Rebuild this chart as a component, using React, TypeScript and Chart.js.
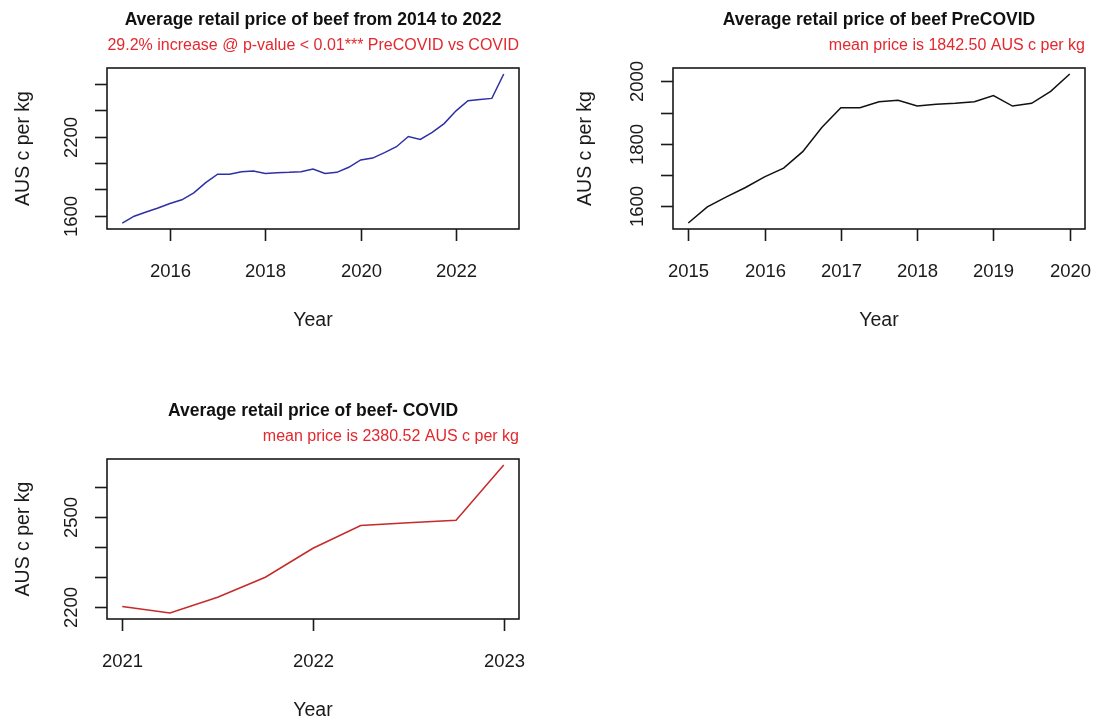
import React, { useEffect, useRef } from "react";
import { Chart, registerables } from "chart.js";

Chart.register(...registerables);

// ---------- data (quarterly, AUS c per kg) ----------
const quartersAll = [
  2015.0, 2015.25, 2015.5, 2015.75, 2016.0, 2016.25, 2016.5, 2016.75,
  2017.0, 2017.25, 2017.5, 2017.75, 2018.0, 2018.25, 2018.5, 2018.75,
  2019.0, 2019.25, 2019.5, 2019.75, 2020.0, 2020.25, 2020.5, 2020.75,
  2021.0, 2021.25, 2021.5, 2021.75, 2022.0, 2022.25, 2022.5, 2022.75,
  2023.0,
];
const priceAll = [
  1546, 1598, 1630, 1660, 1694, 1722, 1775, 1852,
  1916, 1916, 1935, 1940, 1921, 1927, 1930, 1935,
  1955, 1921, 1930, 1968, 2024, 2038, 2079, 2124,
  2201, 2179, 2232, 2299, 2396, 2472, 2481, 2490,
  2675,
];

const quartersPre = [
  2015.0, 2015.25, 2015.5, 2015.75, 2016.0, 2016.25, 2016.5, 2016.75,
  2017.0, 2017.25, 2017.5, 2017.75, 2018.0, 2018.25, 2018.5, 2018.75,
  2019.0, 2019.25, 2019.5, 2019.75, 2020.0,
];
const pricePre = [
  1546, 1598, 1630, 1660, 1694, 1722, 1775, 1852,
  1916, 1916, 1935, 1940, 1921, 1927, 1930, 1935,
  1955, 1921, 1930, 1968, 2024,
];

const quartersCovid = [2021.0, 2021.25, 2021.5, 2021.75, 2022.0, 2022.25, 2022.5, 2022.75, 2023.0];
const priceCovid = [2201, 2179, 2232, 2299, 2396, 2472, 2481, 2490, 2675];

// ---------- axis ticks / labels ----------
const allXTicks = [2016, 2018, 2020, 2022];
const allXTickLabels = ["2016", "2018", "2020", "2022"];
const allYTicks = [1600, 1800, 2000, 2200, 2400, 2600];
const allYTickLabels = ["1600", "", "", "2200", "", ""];

const preXTicks = [2015, 2016, 2017, 2018, 2019, 2020];
const preXTickLabels = ["2015", "2016", "2017", "2018", "2019", "2020"];
const preYTicks = [1600, 1700, 1800, 1900, 2000];
const preYTickLabels = ["1600", "", "1800", "", "2000"];

const covidXTicks = [2021, 2022, 2023];
const covidXTickLabels = ["2021", "2022", "2023"];
const covidYTicks = [2200, 2300, 2400, 2500, 2600];
const covidYTickLabels = ["2200", "", "", "2500", ""];

// ---------- text ----------
const titleAll = "Average retail price of beef from 2014 to 2022";
const subtitleAll = "29.2% increase @ p-value < 0.01*** PreCOVID vs COVID";
const titlePre = "Average retail price of beef PreCOVID";
const subtitlePre = "mean price is 1842.50 AUS c per kg";
const titleCovid = "Average retail price of beef- COVID";
const subtitleCovid = "mean price is 2380.52 AUS c per kg";
const xAxisTitle = "Year";
const yAxisTitle = "AUS c per kg";

const FONT = '"Liberation Sans", Arial, Helvetica, sans-serif';

// R-style range: data range extended by 4% on each side
function rRange(v: number[]): [number, number] {
  const lo = Math.min(...v);
  const hi = Math.max(...v);
  const d = (hi - lo) * 0.04;
  return [lo - d, hi + d];
}

const rAxesPlugin = {
  id: "rAxes",
  afterDraw(chart: any, _args: any, opts: any) {
    const { ctx, chartArea: a } = chart;
    const x = chart.scales.x;
    const y = chart.scales.y;
    ctx.save();
    ctx.strokeStyle = "#1a1a1a";
    ctx.fillStyle = "#1a1a1a";
    ctx.lineWidth = 1.6;
    // box
    ctx.strokeRect(a.left, a.top, a.right - a.left, a.bottom - a.top);

    // x ticks + labels
    ctx.font = `18.5px ${FONT}`;
    ctx.textAlign = "center";
    ctx.textBaseline = "alphabetic";
    (opts.xTicks as number[]).forEach((v, i) => {
      const px = Math.round(x.getPixelForValue(v)) + 0.5;
      ctx.beginPath();
      ctx.moveTo(px, a.bottom);
      ctx.lineTo(px, a.bottom + 12);
      ctx.stroke();
      ctx.fillText(opts.xTickLabels[i], px, a.bottom + 47.5);
    });

    // y ticks + rotated labels
    (opts.yTicks as number[]).forEach((v, i) => {
      const py = Math.round(y.getPixelForValue(v)) + 0.5;
      ctx.beginPath();
      ctx.moveTo(a.left - 12, py);
      ctx.lineTo(a.left, py);
      ctx.stroke();
      const lab = opts.yTickLabels[i];
      if (lab) {
        ctx.save();
        ctx.translate(a.left - 30.5, py);
        ctx.rotate(-Math.PI / 2);
        ctx.textAlign = "center";
        ctx.fillText(lab, 0, 0);
        ctx.restore();
      }
    });

    // axis titles
    ctx.font = `19.5px ${FONT}`;
    ctx.textAlign = "center";
    ctx.fillText(opts.xTitle, (a.left + a.right) / 2, a.bottom + 96.5);
    ctx.save();
    ctx.translate(a.left - opts.yTitleGap, (a.top + a.bottom) / 2);
    ctx.rotate(-Math.PI / 2);
    ctx.fillText(opts.yTitle, 0, 0);
    ctx.restore();

    // main title
    ctx.font = `bold 17.5px ${FONT}`;
    ctx.fillStyle = "#111111";
    ctx.textAlign = "center";
    ctx.fillText(opts.title, (a.left + a.right) / 2, a.top - 43);

    // red subtitle, right aligned
    ctx.font = `16px ${FONT}`;
    ctx.fillStyle = "#e3282e";
    ctx.textAlign = "right";
    ctx.fillText(opts.subtitle, a.right, a.top - 18);
    ctx.restore();
  },
};

type PanelProps = {
  left: number;
  top: number;
  width: number;
  height: number;
  pad: { left: number; top: number; right: number; bottom: number };
  xs: number[];
  ys: number[];
  color: string;
  xTicks: number[];
  xTickLabels: string[];
  yTicks: number[];
  yTickLabels: string[];
  title: string;
  subtitle: string;
  yTitleGap: number;
};

function Panel(p: PanelProps) {
  const ref = useRef<HTMLCanvasElement | null>(null);
  useEffect(() => {
    if (!ref.current) return;
    const [xmin, xmax] = rRange(p.xs);
    const [ymin, ymax] = rRange(p.ys);
    const chart = new Chart(ref.current, {
      type: "line",
      data: {
        datasets: [
          {
            data: p.xs.map((q, i) => ({ x: q, y: p.ys[i] })),
            borderColor: p.color,
            borderWidth: 1.5,
            pointRadius: 0,
            tension: 0,
            fill: false,
          },
        ],
      },
      options: {
        animation: false,
        responsive: false,
        maintainAspectRatio: false,
        devicePixelRatio: 1,
        layout: { padding: p.pad },
        scales: {
          x: { type: "linear", display: false, min: xmin, max: xmax },
          y: { type: "linear", display: false, min: ymin, max: ymax },
        },
        plugins: {
          legend: { display: false },
          tooltip: { enabled: false },
          rAxes: {
            xTicks: p.xTicks,
            xTickLabels: p.xTickLabels,
            yTicks: p.yTicks,
            yTickLabels: p.yTickLabels,
            title: p.title,
            subtitle: p.subtitle,
            xTitle: xAxisTitle,
            yTitle: yAxisTitle,
            yTitleGap: p.yTitleGap,
          },
        } as any,
      },
      plugins: [rAxesPlugin],
    } as any);
    return () => chart.destroy();
  }, []);
  return (
    <canvas
      ref={ref}
      width={p.width}
      height={p.height}
      style={{ position: "absolute", left: p.left, top: p.top, width: p.width, height: p.height }}
    />
  );
}

export default function App() {
  return (
    <div
      style={{
        position: "absolute",
        left: 0,
        top: 0,
        width: 1096,
        height: 724,
        background: "#ffffff",
        overflow: "hidden",
      }}
    >
      <Panel
        left={0}
        top={0}
        width={548}
        height={390}
        pad={{ left: 107, top: 68, right: 29, bottom: 161 }}
        xs={quartersAll}
        ys={priceAll}
        color="#2f2fa6"
        xTicks={allXTicks}
        xTickLabels={allXTickLabels}
        yTicks={allYTicks}
        yTickLabels={allYTickLabels}
        title={titleAll}
        subtitle={subtitleAll}
        yTitleGap={78}
      />
      <Panel
        left={548}
        top={0}
        width={548}
        height={390}
        pad={{ left: 125, top: 68, right: 11, bottom: 161 }}
        xs={quartersPre}
        ys={pricePre}
        color="#111111"
        xTicks={preXTicks}
        xTickLabels={preXTickLabels}
        yTicks={preYTicks}
        yTickLabels={preYTickLabels}
        title={titlePre}
        subtitle={subtitlePre}
        yTitleGap={82}
      />
      <Panel
        left={0}
        top={390}
        width={548}
        height={334}
        pad={{ left: 107, top: 69, right: 29, bottom: 105 }}
        xs={quartersCovid}
        ys={priceCovid}
        color="#c62a2a"
        xTicks={covidXTicks}
        xTickLabels={covidXTickLabels}
        yTicks={covidYTicks}
        yTickLabels={covidYTickLabels}
        title={titleCovid}
        subtitle={subtitleCovid}
        yTitleGap={78}
      />
    </div>
  );
}
